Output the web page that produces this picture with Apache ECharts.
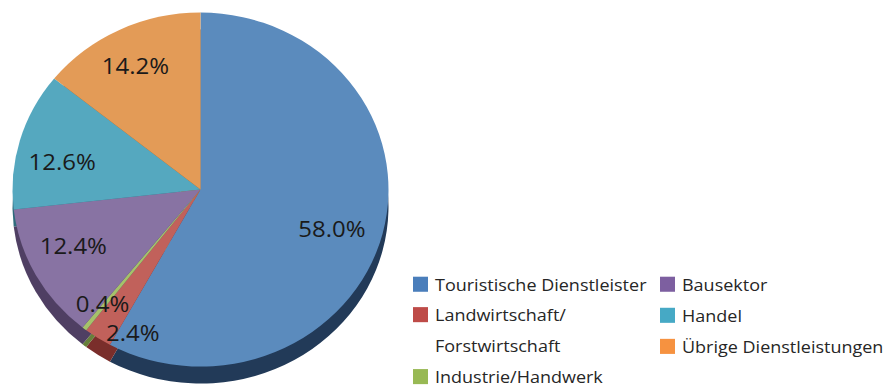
<!DOCTYPE html>
<html>
<head>
<meta charset="utf-8">
<script src="https://cdn.jsdelivr.net/npm/echarts@6/dist/echarts.min.js"></script>
<style>
  html, body { margin: 0; padding: 0; background: #ffffff; overflow: hidden; }
  #wrap { width: 893px; height: 387px; overflow: hidden; }
  /* the pie is drawn as a slightly flattened (tilted) disc */
  #chart { width: 893px; height: 411px; transform: scaleY(0.9415); transform-origin: 0 0; }
</style>
</head>
<body>
<div id="wrap"><div id="chart"></div></div>
<script>
// Employment shares by sector (%)
const categories = [
  'Touristische Dienstleister',
  'Landwirtschaft/\nForstwirtschaft',
  'Industrie/Handwerk',
  'Bausektor',
  'Handel',
  'Übrige Dienstleistungen'
];
const shares = [58.0, 2.4, 0.4, 12.4, 12.6, 14.2];

// styling
const faceColors   = ['#5b8bbd', '#c1615b', '#a5c26a', '#8873a3', '#55a8bf', '#e39b57'];
const sideColors   = ['#223a58', '#7a2e2b', '#66803a', '#4f3f63', '#2f6b7c', '#9a5a22'];
const legendColors = ['#4a7ebb', '#be4b48', '#98b954', '#7d5fa0', '#46a9c5', '#f69240'];
const labelOffsets = [[-8, 5], [11, 31], [-9, 7], [-1, -10], [0, 10], [-3, -2]];

const CX = 200.5, CY = 201.4, R = 188, DEPTH = 18;

function items(colors) {
  return categories.map((name, i) => ({ name: name, value: shares[i], itemStyle: { color: colors[i] } }));
}

const legendText = {
  fontFamily: 'Open Sans', fontSize: 18, color: '#262626', lineHeight: 33, padding: [0, 0, 0, 2]
};
function legendItem(i) {
  return { name: categories[i], icon: 'rect', itemStyle: { color: legendColors[i] } };
}
const legendBase = {
  orient: 'vertical', padding: 0, itemGap: 0, itemWidth: 15, itemHeight: 16,
  selectedMode: false, textStyle: legendText, icon: 'rect'
};

const chart = echarts.init(document.getElementById('chart'), null, { renderer: 'svg' });
chart.setOption({
  animation: false,
  backgroundColor: '#ffffff',
  legend: [
    Object.assign({}, legendBase, { left: 413, top: 285.4, data: [legendItem(0)] }),
    // two-line entry: the leading blank line keeps the swatch beside the first line
    Object.assign({}, legendBase, { left: 413, top: 284.7, formatter: '\n{name}', data: [legendItem(1)] }),
    Object.assign({}, legendBase, {
      left: 413, top: 391, data: [legendItem(2)],
      textStyle: Object.assign({}, legendText, { lineHeight: 18 })
    }),
    Object.assign({}, legendBase, { left: 660, top: 285.4, data: [legendItem(3), legendItem(4), legendItem(5)] })
  ],
  series: [
    {
      // side wall of the disc
      type: 'pie', silent: true, z: 1,
      center: [CX, CY + DEPTH], radius: R, startAngle: 90, clockwise: true,
      label: { show: false }, labelLine: { show: false },
      data: items(sideColors)
    },
    {
      // top face
      type: 'pie', silent: true, z: 2,
      center: [CX, CY], radius: R, startAngle: 90, clockwise: true,
      label: { show: false }, labelLine: { show: false },
      data: items(faceColors)
    },
    {
      // percentage labels
      type: 'pie', silent: true, z: 3,
      center: [CX, CY], radius: [94, R], startAngle: 90, clockwise: true,
      avoidLabelOverlap: false,
      itemStyle: { color: 'rgba(0,0,0,0)' },
      label: {
        show: true, position: 'inside',
        fontFamily: 'Open Sans', fontSize: 24, color: '#1a1a1a',
        formatter: p => p.value.toFixed(1) + '%'
      },
      labelLine: { show: false },
      data: categories.map((name, i) => ({ name: name, value: shares[i], label: { offset: labelOffsets[i] } }))
    }
  ]
});
</script>
</body>
</html>
